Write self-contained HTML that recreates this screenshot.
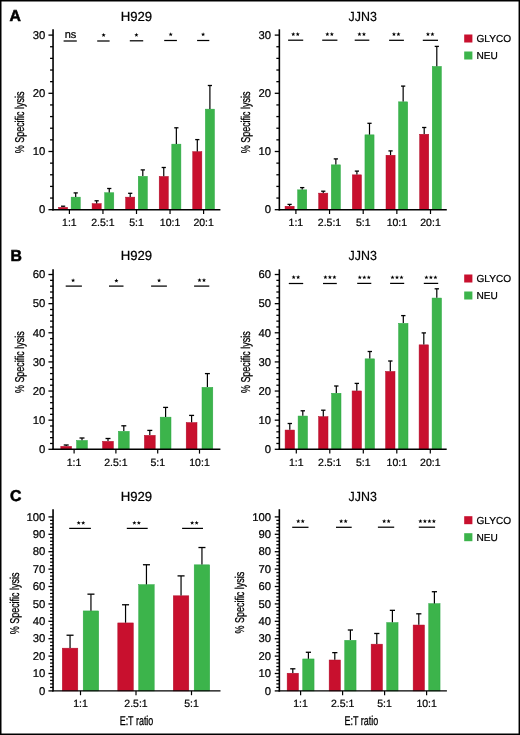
<!DOCTYPE html>
<html><head><meta charset="utf-8"><style>
html,body{margin:0;padding:0;background:#fff;overflow:hidden;width:520px;height:735px;}
svg{display:block;will-change:transform;}
text{font-family:"Liberation Sans", sans-serif;text-rendering:geometricPrecision;stroke:#000;stroke-width:0.22px;}
</style></head><body>
<svg width="520" height="735" viewBox="0 0 520 735">
<rect x="0" y="0" width="520" height="735" fill="#fff"/>
<text x="136.4" y="20.9" font-size="13.2" text-anchor="middle" fill="#000">H929</text>
<line x1="48.449999999999996" y1="209.70" x2="53.05" y2="209.70" stroke="#000" stroke-width="1.3"/>
<text x="45.3" y="213.45" font-size="11.3" text-anchor="end" fill="#000">0</text>
<line x1="50.05" y1="198.06" x2="53.05" y2="198.06" stroke="#000" stroke-width="1.3"/>
<line x1="50.05" y1="186.42" x2="53.05" y2="186.42" stroke="#000" stroke-width="1.3"/>
<line x1="50.05" y1="174.78" x2="53.05" y2="174.78" stroke="#000" stroke-width="1.3"/>
<line x1="50.05" y1="163.14" x2="53.05" y2="163.14" stroke="#000" stroke-width="1.3"/>
<line x1="48.449999999999996" y1="151.50" x2="53.05" y2="151.50" stroke="#000" stroke-width="1.3"/>
<text x="45.3" y="155.25" font-size="11.3" text-anchor="end" fill="#000">10</text>
<line x1="50.05" y1="139.86" x2="53.05" y2="139.86" stroke="#000" stroke-width="1.3"/>
<line x1="50.05" y1="128.22" x2="53.05" y2="128.22" stroke="#000" stroke-width="1.3"/>
<line x1="50.05" y1="116.58" x2="53.05" y2="116.58" stroke="#000" stroke-width="1.3"/>
<line x1="50.05" y1="104.94" x2="53.05" y2="104.94" stroke="#000" stroke-width="1.3"/>
<line x1="48.449999999999996" y1="93.30" x2="53.05" y2="93.30" stroke="#000" stroke-width="1.3"/>
<text x="45.3" y="97.05" font-size="11.3" text-anchor="end" fill="#000">20</text>
<line x1="50.05" y1="81.66" x2="53.05" y2="81.66" stroke="#000" stroke-width="1.3"/>
<line x1="50.05" y1="70.02" x2="53.05" y2="70.02" stroke="#000" stroke-width="1.3"/>
<line x1="50.05" y1="58.38" x2="53.05" y2="58.38" stroke="#000" stroke-width="1.3"/>
<line x1="50.05" y1="46.74" x2="53.05" y2="46.74" stroke="#000" stroke-width="1.3"/>
<line x1="48.449999999999996" y1="35.10" x2="53.05" y2="35.10" stroke="#000" stroke-width="1.3"/>
<text x="45.3" y="38.85" font-size="11.3" text-anchor="end" fill="#000">30</text>
<text transform="translate(24.0,122.4) rotate(-90) scale(0.70,1)" font-size="12.8" text-anchor="middle" fill="#000" style="stroke-width:0.28px">% Specific lysis</text>
<line x1="69.4" y1="209.7" x2="69.4" y2="214.0" stroke="#000" stroke-width="1.2"/>
<text x="69.4" y="226.00" font-size="10.5" text-anchor="middle" fill="#000">1:1</text>
<rect x="58.55" y="207.35" width="9.10" height="2.35" fill="#c8102e" stroke="#b00c28" stroke-width="0.5"/>
<line x1="63.10" y1="206.20" x2="63.10" y2="207.10" stroke="#000" stroke-width="1.2"/>
<line x1="60.99" y1="206.20" x2="65.21" y2="206.20" stroke="#000" stroke-width="1.3"/>
<rect x="71.15" y="197.15" width="9.10" height="12.55" fill="#3cb44b" stroke="#2aa743" stroke-width="0.5"/>
<line x1="75.70" y1="192.90" x2="75.70" y2="196.90" stroke="#000" stroke-width="1.2"/>
<line x1="73.59" y1="192.90" x2="77.81" y2="192.90" stroke="#000" stroke-width="1.3"/>
<line x1="102.95" y1="209.7" x2="102.95" y2="214.0" stroke="#000" stroke-width="1.2"/>
<text x="102.95" y="226.00" font-size="10.5" text-anchor="middle" fill="#000">2.5:1</text>
<rect x="92.10" y="203.65" width="9.10" height="6.05" fill="#c8102e" stroke="#b00c28" stroke-width="0.5"/>
<line x1="96.65" y1="200.80" x2="96.65" y2="203.40" stroke="#000" stroke-width="1.2"/>
<line x1="94.54" y1="200.80" x2="98.76" y2="200.80" stroke="#000" stroke-width="1.3"/>
<rect x="104.70" y="192.75" width="9.10" height="16.95" fill="#3cb44b" stroke="#2aa743" stroke-width="0.5"/>
<line x1="109.25" y1="188.50" x2="109.25" y2="192.50" stroke="#000" stroke-width="1.2"/>
<line x1="107.14" y1="188.50" x2="111.36" y2="188.50" stroke="#000" stroke-width="1.3"/>
<line x1="136.5" y1="209.7" x2="136.5" y2="214.0" stroke="#000" stroke-width="1.2"/>
<text x="136.5" y="226.00" font-size="10.5" text-anchor="middle" fill="#000">5:1</text>
<rect x="125.65" y="197.15" width="9.10" height="12.55" fill="#c8102e" stroke="#b00c28" stroke-width="0.5"/>
<line x1="130.20" y1="193.30" x2="130.20" y2="196.90" stroke="#000" stroke-width="1.2"/>
<line x1="128.09" y1="193.30" x2="132.31" y2="193.30" stroke="#000" stroke-width="1.3"/>
<rect x="138.25" y="176.35" width="9.10" height="33.35" fill="#3cb44b" stroke="#2aa743" stroke-width="0.5"/>
<line x1="142.80" y1="169.90" x2="142.80" y2="176.10" stroke="#000" stroke-width="1.2"/>
<line x1="140.69" y1="169.90" x2="144.91" y2="169.90" stroke="#000" stroke-width="1.3"/>
<line x1="170.05" y1="209.7" x2="170.05" y2="214.0" stroke="#000" stroke-width="1.2"/>
<text x="170.05" y="226.00" font-size="10.5" text-anchor="middle" fill="#000">10:1</text>
<rect x="159.20" y="176.45" width="9.10" height="33.25" fill="#c8102e" stroke="#b00c28" stroke-width="0.5"/>
<line x1="163.75" y1="167.50" x2="163.75" y2="176.20" stroke="#000" stroke-width="1.2"/>
<line x1="161.64" y1="167.50" x2="165.86" y2="167.50" stroke="#000" stroke-width="1.3"/>
<rect x="171.80" y="144.15" width="9.10" height="65.55" fill="#3cb44b" stroke="#2aa743" stroke-width="0.5"/>
<line x1="176.35" y1="127.80" x2="176.35" y2="143.90" stroke="#000" stroke-width="1.2"/>
<line x1="174.24" y1="127.80" x2="178.46" y2="127.80" stroke="#000" stroke-width="1.3"/>
<line x1="203.6" y1="209.7" x2="203.6" y2="214.0" stroke="#000" stroke-width="1.2"/>
<text x="203.6" y="226.00" font-size="10.5" text-anchor="middle" fill="#000">20:1</text>
<rect x="192.75" y="151.65" width="9.10" height="58.05" fill="#c8102e" stroke="#b00c28" stroke-width="0.5"/>
<line x1="197.30" y1="139.60" x2="197.30" y2="151.40" stroke="#000" stroke-width="1.2"/>
<line x1="195.19" y1="139.60" x2="199.41" y2="139.60" stroke="#000" stroke-width="1.3"/>
<rect x="205.35" y="109.15" width="9.10" height="100.55" fill="#3cb44b" stroke="#2aa743" stroke-width="0.5"/>
<line x1="209.90" y1="85.50" x2="209.90" y2="108.90" stroke="#000" stroke-width="1.2"/>
<line x1="207.79" y1="85.50" x2="212.01" y2="85.50" stroke="#000" stroke-width="1.3"/>
<line x1="53.05" y1="29.3" x2="53.05" y2="210.39999999999998" stroke="#000" stroke-width="1.6"/>
<line x1="52.3" y1="209.7" x2="220.4" y2="209.7" stroke="#000" stroke-width="1.4"/>
<line x1="63.6" y1="41.0" x2="76.8" y2="41.0" stroke="#000" stroke-width="1.25"/>
<text x="70.50" y="38.40" font-size="11" text-anchor="middle" fill="#000">ns</text>
<line x1="97.2" y1="41.0" x2="109.6" y2="41.0" stroke="#000" stroke-width="1.25"/>
<polygon points="103.60,32.90 104.16,34.33 105.69,34.42 104.50,35.39 104.89,36.88 103.60,36.05 102.31,36.88 102.70,35.39 101.51,34.42 103.04,34.33" fill="#000"/>
<line x1="129.8" y1="40.8" x2="143.2" y2="40.8" stroke="#000" stroke-width="1.25"/>
<polygon points="136.40,32.80 136.96,34.23 138.49,34.32 137.30,35.29 137.69,36.78 136.40,35.95 135.11,36.78 135.50,35.29 134.31,34.32 135.84,34.23" fill="#000"/>
<line x1="164.2" y1="40.5" x2="176.9" y2="40.5" stroke="#000" stroke-width="1.25"/>
<polygon points="170.70,32.20 171.26,33.63 172.79,33.72 171.60,34.69 171.99,36.18 170.70,35.35 169.41,36.18 169.80,34.69 168.61,33.72 170.14,33.63" fill="#000"/>
<line x1="197.1" y1="40.5" x2="209.3" y2="40.5" stroke="#000" stroke-width="1.25"/>
<polygon points="203.10,32.20 203.66,33.63 205.19,33.72 204.00,34.69 204.39,36.18 203.10,35.35 201.81,36.18 202.20,34.69 201.01,33.72 202.54,33.63" fill="#000"/>
<text x="362.7" y="20.9" font-size="13.2" text-anchor="middle" fill="#000" textLength="28.3" lengthAdjust="spacingAndGlyphs">JJN3</text>
<line x1="274.75" y1="209.70" x2="279.35" y2="209.70" stroke="#000" stroke-width="1.3"/>
<text x="271.1" y="213.45" font-size="11.3" text-anchor="end" fill="#000">0</text>
<line x1="276.35" y1="198.06" x2="279.35" y2="198.06" stroke="#000" stroke-width="1.3"/>
<line x1="276.35" y1="186.42" x2="279.35" y2="186.42" stroke="#000" stroke-width="1.3"/>
<line x1="276.35" y1="174.78" x2="279.35" y2="174.78" stroke="#000" stroke-width="1.3"/>
<line x1="276.35" y1="163.14" x2="279.35" y2="163.14" stroke="#000" stroke-width="1.3"/>
<line x1="274.75" y1="151.50" x2="279.35" y2="151.50" stroke="#000" stroke-width="1.3"/>
<text x="271.1" y="155.25" font-size="11.3" text-anchor="end" fill="#000">10</text>
<line x1="276.35" y1="139.86" x2="279.35" y2="139.86" stroke="#000" stroke-width="1.3"/>
<line x1="276.35" y1="128.22" x2="279.35" y2="128.22" stroke="#000" stroke-width="1.3"/>
<line x1="276.35" y1="116.58" x2="279.35" y2="116.58" stroke="#000" stroke-width="1.3"/>
<line x1="276.35" y1="104.94" x2="279.35" y2="104.94" stroke="#000" stroke-width="1.3"/>
<line x1="274.75" y1="93.30" x2="279.35" y2="93.30" stroke="#000" stroke-width="1.3"/>
<text x="271.1" y="97.05" font-size="11.3" text-anchor="end" fill="#000">20</text>
<line x1="276.35" y1="81.66" x2="279.35" y2="81.66" stroke="#000" stroke-width="1.3"/>
<line x1="276.35" y1="70.02" x2="279.35" y2="70.02" stroke="#000" stroke-width="1.3"/>
<line x1="276.35" y1="58.38" x2="279.35" y2="58.38" stroke="#000" stroke-width="1.3"/>
<line x1="276.35" y1="46.74" x2="279.35" y2="46.74" stroke="#000" stroke-width="1.3"/>
<line x1="274.75" y1="35.10" x2="279.35" y2="35.10" stroke="#000" stroke-width="1.3"/>
<text x="271.1" y="38.85" font-size="11.3" text-anchor="end" fill="#000">30</text>
<text transform="translate(249.8,122.4) rotate(-90) scale(0.70,1)" font-size="12.8" text-anchor="middle" fill="#000" style="stroke-width:0.28px">% Specific lysis</text>
<line x1="295.9" y1="209.7" x2="295.9" y2="214.0" stroke="#000" stroke-width="1.2"/>
<text x="295.9" y="226.00" font-size="10.5" text-anchor="middle" fill="#000">1:1</text>
<rect x="285.05" y="206.25" width="9.10" height="3.45" fill="#c8102e" stroke="#b00c28" stroke-width="0.5"/>
<line x1="289.60" y1="204.40" x2="289.60" y2="206.00" stroke="#000" stroke-width="1.2"/>
<line x1="287.49" y1="204.40" x2="291.71" y2="204.40" stroke="#000" stroke-width="1.3"/>
<rect x="297.65" y="189.85" width="9.10" height="19.85" fill="#3cb44b" stroke="#2aa743" stroke-width="0.5"/>
<line x1="302.20" y1="187.60" x2="302.20" y2="189.60" stroke="#000" stroke-width="1.2"/>
<line x1="300.09" y1="187.60" x2="304.31" y2="187.60" stroke="#000" stroke-width="1.3"/>
<line x1="329.54999999999995" y1="209.7" x2="329.54999999999995" y2="214.0" stroke="#000" stroke-width="1.2"/>
<text x="329.54999999999995" y="226.00" font-size="10.5" text-anchor="middle" fill="#000">2.5:1</text>
<rect x="318.70" y="193.15" width="9.10" height="16.55" fill="#c8102e" stroke="#b00c28" stroke-width="0.5"/>
<line x1="323.25" y1="191.20" x2="323.25" y2="192.90" stroke="#000" stroke-width="1.2"/>
<line x1="321.14" y1="191.20" x2="325.36" y2="191.20" stroke="#000" stroke-width="1.3"/>
<rect x="331.30" y="164.85" width="9.10" height="44.85" fill="#3cb44b" stroke="#2aa743" stroke-width="0.5"/>
<line x1="335.85" y1="158.90" x2="335.85" y2="164.60" stroke="#000" stroke-width="1.2"/>
<line x1="333.74" y1="158.90" x2="337.96" y2="158.90" stroke="#000" stroke-width="1.3"/>
<line x1="363.2" y1="209.7" x2="363.2" y2="214.0" stroke="#000" stroke-width="1.2"/>
<text x="363.2" y="226.00" font-size="10.5" text-anchor="middle" fill="#000">5:1</text>
<rect x="352.35" y="174.85" width="9.10" height="34.85" fill="#c8102e" stroke="#b00c28" stroke-width="0.5"/>
<line x1="356.90" y1="171.10" x2="356.90" y2="174.60" stroke="#000" stroke-width="1.2"/>
<line x1="354.79" y1="171.10" x2="359.01" y2="171.10" stroke="#000" stroke-width="1.3"/>
<rect x="364.95" y="134.85" width="9.10" height="74.85" fill="#3cb44b" stroke="#2aa743" stroke-width="0.5"/>
<line x1="369.50" y1="123.30" x2="369.50" y2="134.60" stroke="#000" stroke-width="1.2"/>
<line x1="367.39" y1="123.30" x2="371.61" y2="123.30" stroke="#000" stroke-width="1.3"/>
<line x1="396.84999999999997" y1="209.7" x2="396.84999999999997" y2="214.0" stroke="#000" stroke-width="1.2"/>
<text x="396.84999999999997" y="226.00" font-size="10.5" text-anchor="middle" fill="#000">10:1</text>
<rect x="386.00" y="155.25" width="9.10" height="54.45" fill="#c8102e" stroke="#b00c28" stroke-width="0.5"/>
<line x1="390.55" y1="150.90" x2="390.55" y2="155.00" stroke="#000" stroke-width="1.2"/>
<line x1="388.44" y1="150.90" x2="392.66" y2="150.90" stroke="#000" stroke-width="1.3"/>
<rect x="398.60" y="101.85" width="9.10" height="107.85" fill="#3cb44b" stroke="#2aa743" stroke-width="0.5"/>
<line x1="403.15" y1="86.10" x2="403.15" y2="101.60" stroke="#000" stroke-width="1.2"/>
<line x1="401.04" y1="86.10" x2="405.26" y2="86.10" stroke="#000" stroke-width="1.3"/>
<line x1="430.5" y1="209.7" x2="430.5" y2="214.0" stroke="#000" stroke-width="1.2"/>
<text x="430.5" y="226.00" font-size="10.5" text-anchor="middle" fill="#000">20:1</text>
<rect x="419.65" y="134.25" width="9.10" height="75.45" fill="#c8102e" stroke="#b00c28" stroke-width="0.5"/>
<line x1="424.20" y1="127.50" x2="424.20" y2="134.00" stroke="#000" stroke-width="1.2"/>
<line x1="422.09" y1="127.50" x2="426.31" y2="127.50" stroke="#000" stroke-width="1.3"/>
<rect x="432.25" y="66.45" width="9.10" height="143.25" fill="#3cb44b" stroke="#2aa743" stroke-width="0.5"/>
<line x1="436.80" y1="46.40" x2="436.80" y2="66.20" stroke="#000" stroke-width="1.2"/>
<line x1="434.69" y1="46.40" x2="438.91" y2="46.40" stroke="#000" stroke-width="1.3"/>
<line x1="279.35" y1="29.3" x2="279.35" y2="210.39999999999998" stroke="#000" stroke-width="1.6"/>
<line x1="278.6" y1="209.7" x2="446.8" y2="209.7" stroke="#000" stroke-width="1.4"/>
<line x1="288.1" y1="40.2" x2="303.2" y2="40.2" stroke="#000" stroke-width="1.25"/>
<polygon points="293.25,32.10 293.81,33.53 295.34,33.62 294.15,34.59 294.54,36.08 293.25,35.25 291.96,36.08 292.35,34.59 291.16,33.62 292.69,33.53" fill="#000"/>
<polygon points="297.75,32.10 298.31,33.53 299.84,33.62 298.65,34.59 299.04,36.08 297.75,35.25 296.46,36.08 296.85,34.59 295.66,33.62 297.19,33.53" fill="#000"/>
<line x1="322.2" y1="40.2" x2="337.4" y2="40.2" stroke="#000" stroke-width="1.25"/>
<polygon points="327.35,32.10 327.91,33.53 329.44,33.62 328.25,34.59 328.64,36.08 327.35,35.25 326.06,36.08 326.45,34.59 325.26,33.62 326.79,33.53" fill="#000"/>
<polygon points="331.85,32.10 332.41,33.53 333.94,33.62 332.75,34.59 333.14,36.08 331.85,35.25 330.56,36.08 330.95,34.59 329.76,33.62 331.29,33.53" fill="#000"/>
<line x1="354.7" y1="40.2" x2="369.3" y2="40.2" stroke="#000" stroke-width="1.25"/>
<polygon points="359.45,32.10 360.01,33.53 361.54,33.62 360.35,34.59 360.74,36.08 359.45,35.25 358.16,36.08 358.55,34.59 357.36,33.62 358.89,33.53" fill="#000"/>
<polygon points="363.95,32.10 364.51,33.53 366.04,33.62 364.85,34.59 365.24,36.08 363.95,35.25 362.66,36.08 363.05,34.59 361.86,33.62 363.39,33.53" fill="#000"/>
<line x1="389.1" y1="40.3" x2="403.9" y2="40.3" stroke="#000" stroke-width="1.25"/>
<polygon points="393.95,32.00 394.51,33.43 396.04,33.52 394.85,34.49 395.24,35.98 393.95,35.15 392.66,35.98 393.05,34.49 391.86,33.52 393.39,33.43" fill="#000"/>
<polygon points="398.45,32.00 399.01,33.43 400.54,33.52 399.35,34.49 399.74,35.98 398.45,35.15 397.16,35.98 397.55,34.49 396.36,33.52 397.89,33.43" fill="#000"/>
<line x1="422.8" y1="40.3" x2="438.0" y2="40.3" stroke="#000" stroke-width="1.25"/>
<polygon points="427.95,32.00 428.51,33.43 430.04,33.52 428.85,34.49 429.24,35.98 427.95,35.15 426.66,35.98 427.05,34.49 425.86,33.52 427.39,33.43" fill="#000"/>
<polygon points="432.45,32.00 433.01,33.43 434.54,33.52 433.35,34.49 433.74,35.98 432.45,35.15 431.16,35.98 431.55,34.49 430.36,33.52 431.89,33.43" fill="#000"/>
<rect x="464.2" y="34.5" width="8.2" height="8" fill="#c8102e"/>
<rect x="464.2" y="51.5" width="8.2" height="8" fill="#3cb44b"/>
<text x="476.5" y="41.8" font-size="10.1" fill="#000">GLYCO</text>
<text x="476.5" y="58.8" font-size="10.1" fill="#000">NEU</text>
<text x="136.4" y="260.2" font-size="13.2" text-anchor="middle" fill="#000">H929</text>
<line x1="48.449999999999996" y1="449.30" x2="53.05" y2="449.30" stroke="#000" stroke-width="1.3"/>
<text x="45.3" y="453.05" font-size="11.3" text-anchor="end" fill="#000">0</text>
<line x1="50.05" y1="443.47" x2="53.05" y2="443.47" stroke="#000" stroke-width="1.3"/>
<line x1="50.05" y1="437.65" x2="53.05" y2="437.65" stroke="#000" stroke-width="1.3"/>
<line x1="50.05" y1="431.82" x2="53.05" y2="431.82" stroke="#000" stroke-width="1.3"/>
<line x1="50.05" y1="426.00" x2="53.05" y2="426.00" stroke="#000" stroke-width="1.3"/>
<line x1="48.449999999999996" y1="420.17" x2="53.05" y2="420.17" stroke="#000" stroke-width="1.3"/>
<text x="45.3" y="423.92" font-size="11.3" text-anchor="end" fill="#000">10</text>
<line x1="50.05" y1="414.34" x2="53.05" y2="414.34" stroke="#000" stroke-width="1.3"/>
<line x1="50.05" y1="408.52" x2="53.05" y2="408.52" stroke="#000" stroke-width="1.3"/>
<line x1="50.05" y1="402.69" x2="53.05" y2="402.69" stroke="#000" stroke-width="1.3"/>
<line x1="50.05" y1="396.87" x2="53.05" y2="396.87" stroke="#000" stroke-width="1.3"/>
<line x1="48.449999999999996" y1="391.04" x2="53.05" y2="391.04" stroke="#000" stroke-width="1.3"/>
<text x="45.3" y="394.79" font-size="11.3" text-anchor="end" fill="#000">20</text>
<line x1="50.05" y1="385.21" x2="53.05" y2="385.21" stroke="#000" stroke-width="1.3"/>
<line x1="50.05" y1="379.39" x2="53.05" y2="379.39" stroke="#000" stroke-width="1.3"/>
<line x1="50.05" y1="373.56" x2="53.05" y2="373.56" stroke="#000" stroke-width="1.3"/>
<line x1="50.05" y1="367.74" x2="53.05" y2="367.74" stroke="#000" stroke-width="1.3"/>
<line x1="48.449999999999996" y1="361.91" x2="53.05" y2="361.91" stroke="#000" stroke-width="1.3"/>
<text x="45.3" y="365.66" font-size="11.3" text-anchor="end" fill="#000">30</text>
<line x1="50.05" y1="356.08" x2="53.05" y2="356.08" stroke="#000" stroke-width="1.3"/>
<line x1="50.05" y1="350.26" x2="53.05" y2="350.26" stroke="#000" stroke-width="1.3"/>
<line x1="50.05" y1="344.43" x2="53.05" y2="344.43" stroke="#000" stroke-width="1.3"/>
<line x1="50.05" y1="338.61" x2="53.05" y2="338.61" stroke="#000" stroke-width="1.3"/>
<line x1="48.449999999999996" y1="332.78" x2="53.05" y2="332.78" stroke="#000" stroke-width="1.3"/>
<text x="45.3" y="336.53" font-size="11.3" text-anchor="end" fill="#000">40</text>
<line x1="50.05" y1="326.95" x2="53.05" y2="326.95" stroke="#000" stroke-width="1.3"/>
<line x1="50.05" y1="321.13" x2="53.05" y2="321.13" stroke="#000" stroke-width="1.3"/>
<line x1="50.05" y1="315.30" x2="53.05" y2="315.30" stroke="#000" stroke-width="1.3"/>
<line x1="50.05" y1="309.48" x2="53.05" y2="309.48" stroke="#000" stroke-width="1.3"/>
<line x1="48.449999999999996" y1="303.65" x2="53.05" y2="303.65" stroke="#000" stroke-width="1.3"/>
<text x="45.3" y="307.40" font-size="11.3" text-anchor="end" fill="#000">50</text>
<line x1="50.05" y1="297.82" x2="53.05" y2="297.82" stroke="#000" stroke-width="1.3"/>
<line x1="50.05" y1="292.00" x2="53.05" y2="292.00" stroke="#000" stroke-width="1.3"/>
<line x1="50.05" y1="286.17" x2="53.05" y2="286.17" stroke="#000" stroke-width="1.3"/>
<line x1="50.05" y1="280.35" x2="53.05" y2="280.35" stroke="#000" stroke-width="1.3"/>
<line x1="48.449999999999996" y1="274.52" x2="53.05" y2="274.52" stroke="#000" stroke-width="1.3"/>
<text x="45.3" y="278.27" font-size="11.3" text-anchor="end" fill="#000">60</text>
<text transform="translate(24.0,362.2) rotate(-90) scale(0.70,1)" font-size="12.8" text-anchor="middle" fill="#000" style="stroke-width:0.28px">% Specific lysis</text>
<line x1="74.1" y1="449.3" x2="74.1" y2="453.6" stroke="#000" stroke-width="1.2"/>
<text x="74.1" y="465.60" font-size="10.5" text-anchor="middle" fill="#000">1:1</text>
<rect x="60.80" y="446.35" width="10.80" height="2.95" fill="#c8102e" stroke="#b00c28" stroke-width="0.5"/>
<line x1="66.20" y1="445.00" x2="66.20" y2="446.10" stroke="#000" stroke-width="1.2"/>
<line x1="63.71" y1="445.00" x2="68.69" y2="445.00" stroke="#000" stroke-width="1.3"/>
<rect x="76.60" y="440.45" width="10.80" height="8.85" fill="#3cb44b" stroke="#2aa743" stroke-width="0.5"/>
<line x1="82.00" y1="438.00" x2="82.00" y2="440.20" stroke="#000" stroke-width="1.2"/>
<line x1="79.51" y1="438.00" x2="84.49" y2="438.00" stroke="#000" stroke-width="1.3"/>
<line x1="115.89999999999999" y1="449.3" x2="115.89999999999999" y2="453.6" stroke="#000" stroke-width="1.2"/>
<text x="115.89999999999999" y="465.60" font-size="10.5" text-anchor="middle" fill="#000">2.5:1</text>
<rect x="102.60" y="441.35" width="10.80" height="7.95" fill="#c8102e" stroke="#b00c28" stroke-width="0.5"/>
<line x1="108.00" y1="438.50" x2="108.00" y2="441.10" stroke="#000" stroke-width="1.2"/>
<line x1="105.51" y1="438.50" x2="110.49" y2="438.50" stroke="#000" stroke-width="1.3"/>
<rect x="118.40" y="431.35" width="10.80" height="17.95" fill="#3cb44b" stroke="#2aa743" stroke-width="0.5"/>
<line x1="123.80" y1="425.80" x2="123.80" y2="431.10" stroke="#000" stroke-width="1.2"/>
<line x1="121.31" y1="425.80" x2="126.29" y2="425.80" stroke="#000" stroke-width="1.3"/>
<line x1="157.7" y1="449.3" x2="157.7" y2="453.6" stroke="#000" stroke-width="1.2"/>
<text x="157.7" y="465.60" font-size="10.5" text-anchor="middle" fill="#000">5:1</text>
<rect x="144.40" y="435.35" width="10.80" height="13.95" fill="#c8102e" stroke="#b00c28" stroke-width="0.5"/>
<line x1="149.80" y1="430.40" x2="149.80" y2="435.10" stroke="#000" stroke-width="1.2"/>
<line x1="147.31" y1="430.40" x2="152.29" y2="430.40" stroke="#000" stroke-width="1.3"/>
<rect x="160.20" y="417.15" width="10.80" height="32.15" fill="#3cb44b" stroke="#2aa743" stroke-width="0.5"/>
<line x1="165.60" y1="407.40" x2="165.60" y2="416.90" stroke="#000" stroke-width="1.2"/>
<line x1="163.11" y1="407.40" x2="168.09" y2="407.40" stroke="#000" stroke-width="1.3"/>
<line x1="199.5" y1="449.3" x2="199.5" y2="453.6" stroke="#000" stroke-width="1.2"/>
<text x="199.5" y="465.60" font-size="10.5" text-anchor="middle" fill="#000">10:1</text>
<rect x="186.20" y="422.55" width="10.80" height="26.75" fill="#c8102e" stroke="#b00c28" stroke-width="0.5"/>
<line x1="191.60" y1="415.40" x2="191.60" y2="422.30" stroke="#000" stroke-width="1.2"/>
<line x1="189.11" y1="415.40" x2="194.09" y2="415.40" stroke="#000" stroke-width="1.3"/>
<rect x="202.00" y="387.35" width="10.80" height="61.95" fill="#3cb44b" stroke="#2aa743" stroke-width="0.5"/>
<line x1="207.40" y1="373.60" x2="207.40" y2="387.10" stroke="#000" stroke-width="1.2"/>
<line x1="204.91" y1="373.60" x2="209.89" y2="373.60" stroke="#000" stroke-width="1.3"/>
<line x1="53.05" y1="269.3" x2="53.05" y2="450.0" stroke="#000" stroke-width="1.6"/>
<line x1="52.3" y1="449.3" x2="220.4" y2="449.3" stroke="#000" stroke-width="1.4"/>
<line x1="65.7" y1="286.1" x2="81.9" y2="286.1" stroke="#000" stroke-width="1.25"/>
<polygon points="73.10,278.20 73.66,279.63 75.19,279.72 74.00,280.69 74.39,282.18 73.10,281.35 71.81,282.18 72.20,280.69 71.01,279.72 72.54,279.63" fill="#000"/>
<line x1="109.0" y1="286.1" x2="123.5" y2="286.1" stroke="#000" stroke-width="1.25"/>
<polygon points="116.40,278.50 116.96,279.93 118.49,280.02 117.30,280.99 117.69,282.48 116.40,281.65 115.11,282.48 115.50,280.99 114.31,280.02 115.84,279.93" fill="#000"/>
<line x1="151.1" y1="286.1" x2="166.9" y2="286.1" stroke="#000" stroke-width="1.25"/>
<polygon points="159.10,278.30 159.66,279.73 161.19,279.82 160.00,280.79 160.39,282.28 159.10,281.45 157.81,282.28 158.20,280.79 157.01,279.82 158.54,279.73" fill="#000"/>
<line x1="194.1" y1="286.1" x2="209.3" y2="286.1" stroke="#000" stroke-width="1.25"/>
<polygon points="199.50,278.10 200.06,279.53 201.59,279.62 200.40,280.59 200.79,282.08 199.50,281.25 198.21,282.08 198.60,280.59 197.41,279.62 198.94,279.53" fill="#000"/>
<polygon points="204.00,278.10 204.56,279.53 206.09,279.62 204.90,280.59 205.29,282.08 204.00,281.25 202.71,282.08 203.10,280.59 201.91,279.62 203.44,279.53" fill="#000"/>
<text x="362.7" y="260.2" font-size="13.2" text-anchor="middle" fill="#000" textLength="28.3" lengthAdjust="spacingAndGlyphs">JJN3</text>
<line x1="274.75" y1="449.30" x2="279.35" y2="449.30" stroke="#000" stroke-width="1.3"/>
<text x="271.1" y="453.05" font-size="11.3" text-anchor="end" fill="#000">0</text>
<line x1="276.35" y1="443.47" x2="279.35" y2="443.47" stroke="#000" stroke-width="1.3"/>
<line x1="276.35" y1="437.65" x2="279.35" y2="437.65" stroke="#000" stroke-width="1.3"/>
<line x1="276.35" y1="431.82" x2="279.35" y2="431.82" stroke="#000" stroke-width="1.3"/>
<line x1="276.35" y1="426.00" x2="279.35" y2="426.00" stroke="#000" stroke-width="1.3"/>
<line x1="274.75" y1="420.17" x2="279.35" y2="420.17" stroke="#000" stroke-width="1.3"/>
<text x="271.1" y="423.92" font-size="11.3" text-anchor="end" fill="#000">10</text>
<line x1="276.35" y1="414.34" x2="279.35" y2="414.34" stroke="#000" stroke-width="1.3"/>
<line x1="276.35" y1="408.52" x2="279.35" y2="408.52" stroke="#000" stroke-width="1.3"/>
<line x1="276.35" y1="402.69" x2="279.35" y2="402.69" stroke="#000" stroke-width="1.3"/>
<line x1="276.35" y1="396.87" x2="279.35" y2="396.87" stroke="#000" stroke-width="1.3"/>
<line x1="274.75" y1="391.04" x2="279.35" y2="391.04" stroke="#000" stroke-width="1.3"/>
<text x="271.1" y="394.79" font-size="11.3" text-anchor="end" fill="#000">20</text>
<line x1="276.35" y1="385.21" x2="279.35" y2="385.21" stroke="#000" stroke-width="1.3"/>
<line x1="276.35" y1="379.39" x2="279.35" y2="379.39" stroke="#000" stroke-width="1.3"/>
<line x1="276.35" y1="373.56" x2="279.35" y2="373.56" stroke="#000" stroke-width="1.3"/>
<line x1="276.35" y1="367.74" x2="279.35" y2="367.74" stroke="#000" stroke-width="1.3"/>
<line x1="274.75" y1="361.91" x2="279.35" y2="361.91" stroke="#000" stroke-width="1.3"/>
<text x="271.1" y="365.66" font-size="11.3" text-anchor="end" fill="#000">30</text>
<line x1="276.35" y1="356.08" x2="279.35" y2="356.08" stroke="#000" stroke-width="1.3"/>
<line x1="276.35" y1="350.26" x2="279.35" y2="350.26" stroke="#000" stroke-width="1.3"/>
<line x1="276.35" y1="344.43" x2="279.35" y2="344.43" stroke="#000" stroke-width="1.3"/>
<line x1="276.35" y1="338.61" x2="279.35" y2="338.61" stroke="#000" stroke-width="1.3"/>
<line x1="274.75" y1="332.78" x2="279.35" y2="332.78" stroke="#000" stroke-width="1.3"/>
<text x="271.1" y="336.53" font-size="11.3" text-anchor="end" fill="#000">40</text>
<line x1="276.35" y1="326.95" x2="279.35" y2="326.95" stroke="#000" stroke-width="1.3"/>
<line x1="276.35" y1="321.13" x2="279.35" y2="321.13" stroke="#000" stroke-width="1.3"/>
<line x1="276.35" y1="315.30" x2="279.35" y2="315.30" stroke="#000" stroke-width="1.3"/>
<line x1="276.35" y1="309.48" x2="279.35" y2="309.48" stroke="#000" stroke-width="1.3"/>
<line x1="274.75" y1="303.65" x2="279.35" y2="303.65" stroke="#000" stroke-width="1.3"/>
<text x="271.1" y="307.40" font-size="11.3" text-anchor="end" fill="#000">50</text>
<line x1="276.35" y1="297.82" x2="279.35" y2="297.82" stroke="#000" stroke-width="1.3"/>
<line x1="276.35" y1="292.00" x2="279.35" y2="292.00" stroke="#000" stroke-width="1.3"/>
<line x1="276.35" y1="286.17" x2="279.35" y2="286.17" stroke="#000" stroke-width="1.3"/>
<line x1="276.35" y1="280.35" x2="279.35" y2="280.35" stroke="#000" stroke-width="1.3"/>
<line x1="274.75" y1="274.52" x2="279.35" y2="274.52" stroke="#000" stroke-width="1.3"/>
<text x="271.1" y="278.27" font-size="11.3" text-anchor="end" fill="#000">60</text>
<text transform="translate(249.8,362.2) rotate(-90) scale(0.70,1)" font-size="12.8" text-anchor="middle" fill="#000" style="stroke-width:0.28px">% Specific lysis</text>
<line x1="296.3" y1="449.3" x2="296.3" y2="453.6" stroke="#000" stroke-width="1.2"/>
<text x="296.3" y="465.60" font-size="10.5" text-anchor="middle" fill="#000">1:1</text>
<rect x="285.10" y="430.05" width="9.40" height="19.25" fill="#c8102e" stroke="#b00c28" stroke-width="0.5"/>
<line x1="289.80" y1="423.50" x2="289.80" y2="429.80" stroke="#000" stroke-width="1.2"/>
<line x1="287.62" y1="423.50" x2="291.98" y2="423.50" stroke="#000" stroke-width="1.3"/>
<rect x="298.10" y="416.05" width="9.40" height="33.25" fill="#3cb44b" stroke="#2aa743" stroke-width="0.5"/>
<line x1="302.80" y1="410.80" x2="302.80" y2="415.80" stroke="#000" stroke-width="1.2"/>
<line x1="300.62" y1="410.80" x2="304.98" y2="410.80" stroke="#000" stroke-width="1.3"/>
<line x1="329.8" y1="449.3" x2="329.8" y2="453.6" stroke="#000" stroke-width="1.2"/>
<text x="329.8" y="465.60" font-size="10.5" text-anchor="middle" fill="#000">2.5:1</text>
<rect x="318.60" y="416.65" width="9.40" height="32.65" fill="#c8102e" stroke="#b00c28" stroke-width="0.5"/>
<line x1="323.30" y1="410.20" x2="323.30" y2="416.40" stroke="#000" stroke-width="1.2"/>
<line x1="321.12" y1="410.20" x2="325.48" y2="410.20" stroke="#000" stroke-width="1.3"/>
<rect x="331.60" y="393.25" width="9.40" height="56.05" fill="#3cb44b" stroke="#2aa743" stroke-width="0.5"/>
<line x1="336.30" y1="386.00" x2="336.30" y2="393.00" stroke="#000" stroke-width="1.2"/>
<line x1="334.12" y1="386.00" x2="338.48" y2="386.00" stroke="#000" stroke-width="1.3"/>
<line x1="363.3" y1="449.3" x2="363.3" y2="453.6" stroke="#000" stroke-width="1.2"/>
<text x="363.3" y="465.60" font-size="10.5" text-anchor="middle" fill="#000">5:1</text>
<rect x="352.10" y="390.95" width="9.40" height="58.35" fill="#c8102e" stroke="#b00c28" stroke-width="0.5"/>
<line x1="356.80" y1="383.40" x2="356.80" y2="390.70" stroke="#000" stroke-width="1.2"/>
<line x1="354.62" y1="383.40" x2="358.98" y2="383.40" stroke="#000" stroke-width="1.3"/>
<rect x="365.10" y="358.85" width="9.40" height="90.45" fill="#3cb44b" stroke="#2aa743" stroke-width="0.5"/>
<line x1="369.80" y1="351.50" x2="369.80" y2="358.60" stroke="#000" stroke-width="1.2"/>
<line x1="367.62" y1="351.50" x2="371.98" y2="351.50" stroke="#000" stroke-width="1.3"/>
<line x1="396.8" y1="449.3" x2="396.8" y2="453.6" stroke="#000" stroke-width="1.2"/>
<text x="396.8" y="465.60" font-size="10.5" text-anchor="middle" fill="#000">10:1</text>
<rect x="385.60" y="371.45" width="9.40" height="77.85" fill="#c8102e" stroke="#b00c28" stroke-width="0.5"/>
<line x1="390.30" y1="361.00" x2="390.30" y2="371.20" stroke="#000" stroke-width="1.2"/>
<line x1="388.12" y1="361.00" x2="392.48" y2="361.00" stroke="#000" stroke-width="1.3"/>
<rect x="398.60" y="323.35" width="9.40" height="125.95" fill="#3cb44b" stroke="#2aa743" stroke-width="0.5"/>
<line x1="403.30" y1="315.60" x2="403.30" y2="323.10" stroke="#000" stroke-width="1.2"/>
<line x1="401.12" y1="315.60" x2="405.48" y2="315.60" stroke="#000" stroke-width="1.3"/>
<line x1="430.3" y1="449.3" x2="430.3" y2="453.6" stroke="#000" stroke-width="1.2"/>
<text x="430.3" y="465.60" font-size="10.5" text-anchor="middle" fill="#000">20:1</text>
<rect x="419.10" y="344.85" width="9.40" height="104.45" fill="#c8102e" stroke="#b00c28" stroke-width="0.5"/>
<line x1="423.80" y1="332.90" x2="423.80" y2="344.60" stroke="#000" stroke-width="1.2"/>
<line x1="421.62" y1="332.90" x2="425.98" y2="332.90" stroke="#000" stroke-width="1.3"/>
<rect x="432.10" y="298.05" width="9.40" height="151.25" fill="#3cb44b" stroke="#2aa743" stroke-width="0.5"/>
<line x1="436.80" y1="288.80" x2="436.80" y2="297.80" stroke="#000" stroke-width="1.2"/>
<line x1="434.62" y1="288.80" x2="438.98" y2="288.80" stroke="#000" stroke-width="1.3"/>
<line x1="279.35" y1="269.3" x2="279.35" y2="450.0" stroke="#000" stroke-width="1.6"/>
<line x1="278.6" y1="449.3" x2="446.7" y2="449.3" stroke="#000" stroke-width="1.4"/>
<line x1="288.8" y1="283.5" x2="303.2" y2="283.5" stroke="#000" stroke-width="1.25"/>
<polygon points="293.65,275.10 294.21,276.53 295.74,276.62 294.55,277.59 294.94,279.08 293.65,278.25 292.36,279.08 292.75,277.59 291.56,276.62 293.09,276.53" fill="#000"/>
<polygon points="298.15,275.10 298.71,276.53 300.24,276.62 299.05,277.59 299.44,279.08 298.15,278.25 296.86,279.08 297.25,277.59 296.06,276.62 297.59,276.53" fill="#000"/>
<line x1="323.0" y1="283.5" x2="336.8" y2="283.5" stroke="#000" stroke-width="1.25"/>
<polygon points="325.40,275.10 325.96,276.53 327.49,276.62 326.30,277.59 326.69,279.08 325.40,278.25 324.11,279.08 324.50,277.59 323.31,276.62 324.84,276.53" fill="#000"/>
<polygon points="329.90,275.10 330.46,276.53 331.99,276.62 330.80,277.59 331.19,279.08 329.90,278.25 328.61,279.08 329.00,277.59 327.81,276.62 329.34,276.53" fill="#000"/>
<polygon points="334.40,275.10 334.96,276.53 336.49,276.62 335.30,277.59 335.69,279.08 334.40,278.25 333.11,279.08 333.50,277.59 332.31,276.62 333.84,276.53" fill="#000"/>
<line x1="357.2" y1="283.4" x2="371.3" y2="283.4" stroke="#000" stroke-width="1.25"/>
<polygon points="359.80,275.20 360.36,276.63 361.89,276.72 360.70,277.69 361.09,279.18 359.80,278.35 358.51,279.18 358.90,277.69 357.71,276.72 359.24,276.63" fill="#000"/>
<polygon points="364.30,275.20 364.86,276.63 366.39,276.72 365.20,277.69 365.59,279.18 364.30,278.35 363.01,279.18 363.40,277.69 362.21,276.72 363.74,276.63" fill="#000"/>
<polygon points="368.80,275.20 369.36,276.63 370.89,276.72 369.70,277.69 370.09,279.18 368.80,278.35 367.51,279.18 367.90,277.69 366.71,276.72 368.24,276.63" fill="#000"/>
<line x1="390.1" y1="283.4" x2="404.2" y2="283.4" stroke="#000" stroke-width="1.25"/>
<polygon points="392.50,275.20 393.06,276.63 394.59,276.72 393.40,277.69 393.79,279.18 392.50,278.35 391.21,279.18 391.60,277.69 390.41,276.72 391.94,276.63" fill="#000"/>
<polygon points="397.00,275.20 397.56,276.63 399.09,276.72 397.90,277.69 398.29,279.18 397.00,278.35 395.71,279.18 396.10,277.69 394.91,276.72 396.44,276.63" fill="#000"/>
<polygon points="401.50,275.20 402.06,276.63 403.59,276.72 402.40,277.69 402.79,279.18 401.50,278.35 400.21,279.18 400.60,277.69 399.41,276.72 400.94,276.63" fill="#000"/>
<line x1="423.8" y1="283.4" x2="438.2" y2="283.4" stroke="#000" stroke-width="1.25"/>
<polygon points="426.40,275.20 426.96,276.63 428.49,276.72 427.30,277.69 427.69,279.18 426.40,278.35 425.11,279.18 425.50,277.69 424.31,276.72 425.84,276.63" fill="#000"/>
<polygon points="430.90,275.20 431.46,276.63 432.99,276.72 431.80,277.69 432.19,279.18 430.90,278.35 429.61,279.18 430.00,277.69 428.81,276.72 430.34,276.63" fill="#000"/>
<polygon points="435.40,275.20 435.96,276.63 437.49,276.72 436.30,277.69 436.69,279.18 435.40,278.35 434.11,279.18 434.50,277.69 433.31,276.72 434.84,276.63" fill="#000"/>
<rect x="464.2" y="274.5" width="8.2" height="8" fill="#c8102e"/>
<rect x="464.2" y="291.5" width="8.2" height="8" fill="#3cb44b"/>
<text x="476.5" y="281.8" font-size="10.1" fill="#000">GLYCO</text>
<text x="476.5" y="298.8" font-size="10.1" fill="#000">NEU</text>
<text x="136.4" y="500.6" font-size="13.2" text-anchor="middle" fill="#000">H929</text>
<line x1="48.449999999999996" y1="690.90" x2="53.05" y2="690.90" stroke="#000" stroke-width="1.3"/>
<text x="45.3" y="694.65" font-size="11.3" text-anchor="end" fill="#000">0</text>
<line x1="50.05" y1="687.42" x2="53.05" y2="687.42" stroke="#000" stroke-width="1.3"/>
<line x1="50.05" y1="683.94" x2="53.05" y2="683.94" stroke="#000" stroke-width="1.3"/>
<line x1="50.05" y1="680.46" x2="53.05" y2="680.46" stroke="#000" stroke-width="1.3"/>
<line x1="50.05" y1="676.98" x2="53.05" y2="676.98" stroke="#000" stroke-width="1.3"/>
<line x1="48.449999999999996" y1="673.50" x2="53.05" y2="673.50" stroke="#000" stroke-width="1.3"/>
<text x="45.3" y="677.25" font-size="11.3" text-anchor="end" fill="#000">10</text>
<line x1="50.05" y1="670.02" x2="53.05" y2="670.02" stroke="#000" stroke-width="1.3"/>
<line x1="50.05" y1="666.54" x2="53.05" y2="666.54" stroke="#000" stroke-width="1.3"/>
<line x1="50.05" y1="663.06" x2="53.05" y2="663.06" stroke="#000" stroke-width="1.3"/>
<line x1="50.05" y1="659.58" x2="53.05" y2="659.58" stroke="#000" stroke-width="1.3"/>
<line x1="48.449999999999996" y1="656.10" x2="53.05" y2="656.10" stroke="#000" stroke-width="1.3"/>
<text x="45.3" y="659.85" font-size="11.3" text-anchor="end" fill="#000">20</text>
<line x1="50.05" y1="652.62" x2="53.05" y2="652.62" stroke="#000" stroke-width="1.3"/>
<line x1="50.05" y1="649.14" x2="53.05" y2="649.14" stroke="#000" stroke-width="1.3"/>
<line x1="50.05" y1="645.66" x2="53.05" y2="645.66" stroke="#000" stroke-width="1.3"/>
<line x1="50.05" y1="642.18" x2="53.05" y2="642.18" stroke="#000" stroke-width="1.3"/>
<line x1="48.449999999999996" y1="638.70" x2="53.05" y2="638.70" stroke="#000" stroke-width="1.3"/>
<text x="45.3" y="642.45" font-size="11.3" text-anchor="end" fill="#000">30</text>
<line x1="50.05" y1="635.22" x2="53.05" y2="635.22" stroke="#000" stroke-width="1.3"/>
<line x1="50.05" y1="631.74" x2="53.05" y2="631.74" stroke="#000" stroke-width="1.3"/>
<line x1="50.05" y1="628.26" x2="53.05" y2="628.26" stroke="#000" stroke-width="1.3"/>
<line x1="50.05" y1="624.78" x2="53.05" y2="624.78" stroke="#000" stroke-width="1.3"/>
<line x1="48.449999999999996" y1="621.30" x2="53.05" y2="621.30" stroke="#000" stroke-width="1.3"/>
<text x="45.3" y="625.05" font-size="11.3" text-anchor="end" fill="#000">40</text>
<line x1="50.05" y1="617.82" x2="53.05" y2="617.82" stroke="#000" stroke-width="1.3"/>
<line x1="50.05" y1="614.34" x2="53.05" y2="614.34" stroke="#000" stroke-width="1.3"/>
<line x1="50.05" y1="610.86" x2="53.05" y2="610.86" stroke="#000" stroke-width="1.3"/>
<line x1="50.05" y1="607.38" x2="53.05" y2="607.38" stroke="#000" stroke-width="1.3"/>
<line x1="48.449999999999996" y1="603.90" x2="53.05" y2="603.90" stroke="#000" stroke-width="1.3"/>
<text x="45.3" y="607.65" font-size="11.3" text-anchor="end" fill="#000">50</text>
<line x1="50.05" y1="600.42" x2="53.05" y2="600.42" stroke="#000" stroke-width="1.3"/>
<line x1="50.05" y1="596.94" x2="53.05" y2="596.94" stroke="#000" stroke-width="1.3"/>
<line x1="50.05" y1="593.46" x2="53.05" y2="593.46" stroke="#000" stroke-width="1.3"/>
<line x1="50.05" y1="589.98" x2="53.05" y2="589.98" stroke="#000" stroke-width="1.3"/>
<line x1="48.449999999999996" y1="586.50" x2="53.05" y2="586.50" stroke="#000" stroke-width="1.3"/>
<text x="45.3" y="590.25" font-size="11.3" text-anchor="end" fill="#000">60</text>
<line x1="50.05" y1="583.02" x2="53.05" y2="583.02" stroke="#000" stroke-width="1.3"/>
<line x1="50.05" y1="579.54" x2="53.05" y2="579.54" stroke="#000" stroke-width="1.3"/>
<line x1="50.05" y1="576.06" x2="53.05" y2="576.06" stroke="#000" stroke-width="1.3"/>
<line x1="50.05" y1="572.58" x2="53.05" y2="572.58" stroke="#000" stroke-width="1.3"/>
<line x1="48.449999999999996" y1="569.10" x2="53.05" y2="569.10" stroke="#000" stroke-width="1.3"/>
<text x="45.3" y="572.85" font-size="11.3" text-anchor="end" fill="#000">70</text>
<line x1="50.05" y1="565.62" x2="53.05" y2="565.62" stroke="#000" stroke-width="1.3"/>
<line x1="50.05" y1="562.14" x2="53.05" y2="562.14" stroke="#000" stroke-width="1.3"/>
<line x1="50.05" y1="558.66" x2="53.05" y2="558.66" stroke="#000" stroke-width="1.3"/>
<line x1="50.05" y1="555.18" x2="53.05" y2="555.18" stroke="#000" stroke-width="1.3"/>
<line x1="48.449999999999996" y1="551.70" x2="53.05" y2="551.70" stroke="#000" stroke-width="1.3"/>
<text x="45.3" y="555.45" font-size="11.3" text-anchor="end" fill="#000">80</text>
<line x1="50.05" y1="548.22" x2="53.05" y2="548.22" stroke="#000" stroke-width="1.3"/>
<line x1="50.05" y1="544.74" x2="53.05" y2="544.74" stroke="#000" stroke-width="1.3"/>
<line x1="50.05" y1="541.26" x2="53.05" y2="541.26" stroke="#000" stroke-width="1.3"/>
<line x1="50.05" y1="537.78" x2="53.05" y2="537.78" stroke="#000" stroke-width="1.3"/>
<line x1="48.449999999999996" y1="534.30" x2="53.05" y2="534.30" stroke="#000" stroke-width="1.3"/>
<text x="45.3" y="538.05" font-size="11.3" text-anchor="end" fill="#000">90</text>
<line x1="50.05" y1="530.82" x2="53.05" y2="530.82" stroke="#000" stroke-width="1.3"/>
<line x1="50.05" y1="527.34" x2="53.05" y2="527.34" stroke="#000" stroke-width="1.3"/>
<line x1="50.05" y1="523.86" x2="53.05" y2="523.86" stroke="#000" stroke-width="1.3"/>
<line x1="50.05" y1="520.38" x2="53.05" y2="520.38" stroke="#000" stroke-width="1.3"/>
<line x1="48.449999999999996" y1="516.90" x2="53.05" y2="516.90" stroke="#000" stroke-width="1.3"/>
<text x="45.3" y="520.65" font-size="11.3" text-anchor="end" fill="#000">100</text>
<text transform="translate(18.6,603.4) rotate(-90) scale(0.70,1)" font-size="12.8" text-anchor="middle" fill="#000" style="stroke-width:0.28px">% Specific lysis</text>
<line x1="80.5" y1="690.9" x2="80.5" y2="695.1999999999999" stroke="#000" stroke-width="1.2"/>
<text x="80.5" y="707.20" font-size="10.5" text-anchor="middle" fill="#000">1:1</text>
<rect x="62.30" y="648.17" width="15.50" height="42.73" fill="#c8102e" stroke="#b00c28" stroke-width="0.5"/>
<line x1="70.05" y1="635.22" x2="70.05" y2="647.92" stroke="#000" stroke-width="1.2"/>
<line x1="66.53" y1="635.22" x2="73.57" y2="635.22" stroke="#000" stroke-width="1.3"/>
<rect x="83.20" y="610.94" width="15.50" height="79.96" fill="#3cb44b" stroke="#2aa743" stroke-width="0.5"/>
<line x1="90.95" y1="594.16" x2="90.95" y2="610.69" stroke="#000" stroke-width="1.2"/>
<line x1="87.43" y1="594.16" x2="94.47" y2="594.16" stroke="#000" stroke-width="1.3"/>
<line x1="136.0" y1="690.9" x2="136.0" y2="695.1999999999999" stroke="#000" stroke-width="1.2"/>
<text x="136.0" y="707.20" font-size="10.5" text-anchor="middle" fill="#000">2.5:1</text>
<rect x="117.80" y="622.94" width="15.50" height="67.96" fill="#c8102e" stroke="#b00c28" stroke-width="0.5"/>
<line x1="125.55" y1="604.77" x2="125.55" y2="622.69" stroke="#000" stroke-width="1.2"/>
<line x1="122.03" y1="604.77" x2="129.07" y2="604.77" stroke="#000" stroke-width="1.3"/>
<rect x="138.70" y="584.66" width="15.50" height="106.24" fill="#3cb44b" stroke="#2aa743" stroke-width="0.5"/>
<line x1="146.45" y1="564.75" x2="146.45" y2="584.41" stroke="#000" stroke-width="1.2"/>
<line x1="142.93" y1="564.75" x2="149.97" y2="564.75" stroke="#000" stroke-width="1.3"/>
<line x1="191.5" y1="690.9" x2="191.5" y2="695.1999999999999" stroke="#000" stroke-width="1.2"/>
<text x="191.5" y="707.20" font-size="10.5" text-anchor="middle" fill="#000">5:1</text>
<rect x="173.30" y="595.80" width="15.50" height="95.10" fill="#c8102e" stroke="#b00c28" stroke-width="0.5"/>
<line x1="181.05" y1="575.89" x2="181.05" y2="595.55" stroke="#000" stroke-width="1.2"/>
<line x1="177.53" y1="575.89" x2="184.57" y2="575.89" stroke="#000" stroke-width="1.3"/>
<rect x="194.20" y="564.83" width="15.50" height="126.07" fill="#3cb44b" stroke="#2aa743" stroke-width="0.5"/>
<line x1="201.95" y1="547.52" x2="201.95" y2="564.58" stroke="#000" stroke-width="1.2"/>
<line x1="198.43" y1="547.52" x2="205.47" y2="547.52" stroke="#000" stroke-width="1.3"/>
<line x1="53.05" y1="509.2" x2="53.05" y2="691.6" stroke="#000" stroke-width="1.6"/>
<line x1="52.3" y1="690.9" x2="220.5" y2="690.9" stroke="#000" stroke-width="1.4"/>
<line x1="69.2" y1="528.4" x2="90.9" y2="528.4" stroke="#000" stroke-width="1.25"/>
<polygon points="78.70,520.70 79.26,522.13 80.79,522.22 79.60,523.19 79.99,524.68 78.70,523.85 77.41,524.68 77.80,523.19 76.61,522.22 78.14,522.13" fill="#000"/>
<polygon points="83.20,520.70 83.76,522.13 85.29,522.22 84.10,523.19 84.49,524.68 83.20,523.85 81.91,524.68 82.30,523.19 81.11,522.22 82.64,522.13" fill="#000"/>
<line x1="126.8" y1="528.4" x2="147.7" y2="528.4" stroke="#000" stroke-width="1.25"/>
<polygon points="134.35,520.70 134.91,522.13 136.44,522.22 135.25,523.19 135.64,524.68 134.35,523.85 133.06,524.68 133.45,523.19 132.26,522.22 133.79,522.13" fill="#000"/>
<polygon points="138.85,520.70 139.41,522.13 140.94,522.22 139.75,523.19 140.14,524.68 138.85,523.85 137.56,524.68 137.95,523.19 136.76,522.22 138.29,522.13" fill="#000"/>
<line x1="182.1" y1="528.4" x2="203.0" y2="528.4" stroke="#000" stroke-width="1.25"/>
<polygon points="192.15,520.70 192.71,522.13 194.24,522.22 193.05,523.19 193.44,524.68 192.15,523.85 190.86,524.68 191.25,523.19 190.06,522.22 191.59,522.13" fill="#000"/>
<polygon points="196.65,520.70 197.21,522.13 198.74,522.22 197.55,523.19 197.94,524.68 196.65,523.85 195.36,524.68 195.75,523.19 194.56,522.22 196.09,522.13" fill="#000"/>
<text transform="translate(136.5,724.9) scale(0.70,1)" font-size="12.8" text-anchor="middle" fill="#000" style="stroke-width:0.3px">E:T ratio</text>
<text x="362.7" y="500.6" font-size="13.2" text-anchor="middle" fill="#000" textLength="28.3" lengthAdjust="spacingAndGlyphs">JJN3</text>
<line x1="274.75" y1="690.90" x2="279.35" y2="690.90" stroke="#000" stroke-width="1.3"/>
<text x="271.1" y="694.65" font-size="11.3" text-anchor="end" fill="#000">0</text>
<line x1="276.35" y1="687.42" x2="279.35" y2="687.42" stroke="#000" stroke-width="1.3"/>
<line x1="276.35" y1="683.94" x2="279.35" y2="683.94" stroke="#000" stroke-width="1.3"/>
<line x1="276.35" y1="680.46" x2="279.35" y2="680.46" stroke="#000" stroke-width="1.3"/>
<line x1="276.35" y1="676.98" x2="279.35" y2="676.98" stroke="#000" stroke-width="1.3"/>
<line x1="274.75" y1="673.50" x2="279.35" y2="673.50" stroke="#000" stroke-width="1.3"/>
<text x="271.1" y="677.25" font-size="11.3" text-anchor="end" fill="#000">10</text>
<line x1="276.35" y1="670.02" x2="279.35" y2="670.02" stroke="#000" stroke-width="1.3"/>
<line x1="276.35" y1="666.54" x2="279.35" y2="666.54" stroke="#000" stroke-width="1.3"/>
<line x1="276.35" y1="663.06" x2="279.35" y2="663.06" stroke="#000" stroke-width="1.3"/>
<line x1="276.35" y1="659.58" x2="279.35" y2="659.58" stroke="#000" stroke-width="1.3"/>
<line x1="274.75" y1="656.10" x2="279.35" y2="656.10" stroke="#000" stroke-width="1.3"/>
<text x="271.1" y="659.85" font-size="11.3" text-anchor="end" fill="#000">20</text>
<line x1="276.35" y1="652.62" x2="279.35" y2="652.62" stroke="#000" stroke-width="1.3"/>
<line x1="276.35" y1="649.14" x2="279.35" y2="649.14" stroke="#000" stroke-width="1.3"/>
<line x1="276.35" y1="645.66" x2="279.35" y2="645.66" stroke="#000" stroke-width="1.3"/>
<line x1="276.35" y1="642.18" x2="279.35" y2="642.18" stroke="#000" stroke-width="1.3"/>
<line x1="274.75" y1="638.70" x2="279.35" y2="638.70" stroke="#000" stroke-width="1.3"/>
<text x="271.1" y="642.45" font-size="11.3" text-anchor="end" fill="#000">30</text>
<line x1="276.35" y1="635.22" x2="279.35" y2="635.22" stroke="#000" stroke-width="1.3"/>
<line x1="276.35" y1="631.74" x2="279.35" y2="631.74" stroke="#000" stroke-width="1.3"/>
<line x1="276.35" y1="628.26" x2="279.35" y2="628.26" stroke="#000" stroke-width="1.3"/>
<line x1="276.35" y1="624.78" x2="279.35" y2="624.78" stroke="#000" stroke-width="1.3"/>
<line x1="274.75" y1="621.30" x2="279.35" y2="621.30" stroke="#000" stroke-width="1.3"/>
<text x="271.1" y="625.05" font-size="11.3" text-anchor="end" fill="#000">40</text>
<line x1="276.35" y1="617.82" x2="279.35" y2="617.82" stroke="#000" stroke-width="1.3"/>
<line x1="276.35" y1="614.34" x2="279.35" y2="614.34" stroke="#000" stroke-width="1.3"/>
<line x1="276.35" y1="610.86" x2="279.35" y2="610.86" stroke="#000" stroke-width="1.3"/>
<line x1="276.35" y1="607.38" x2="279.35" y2="607.38" stroke="#000" stroke-width="1.3"/>
<line x1="274.75" y1="603.90" x2="279.35" y2="603.90" stroke="#000" stroke-width="1.3"/>
<text x="271.1" y="607.65" font-size="11.3" text-anchor="end" fill="#000">50</text>
<line x1="276.35" y1="600.42" x2="279.35" y2="600.42" stroke="#000" stroke-width="1.3"/>
<line x1="276.35" y1="596.94" x2="279.35" y2="596.94" stroke="#000" stroke-width="1.3"/>
<line x1="276.35" y1="593.46" x2="279.35" y2="593.46" stroke="#000" stroke-width="1.3"/>
<line x1="276.35" y1="589.98" x2="279.35" y2="589.98" stroke="#000" stroke-width="1.3"/>
<line x1="274.75" y1="586.50" x2="279.35" y2="586.50" stroke="#000" stroke-width="1.3"/>
<text x="271.1" y="590.25" font-size="11.3" text-anchor="end" fill="#000">60</text>
<line x1="276.35" y1="583.02" x2="279.35" y2="583.02" stroke="#000" stroke-width="1.3"/>
<line x1="276.35" y1="579.54" x2="279.35" y2="579.54" stroke="#000" stroke-width="1.3"/>
<line x1="276.35" y1="576.06" x2="279.35" y2="576.06" stroke="#000" stroke-width="1.3"/>
<line x1="276.35" y1="572.58" x2="279.35" y2="572.58" stroke="#000" stroke-width="1.3"/>
<line x1="274.75" y1="569.10" x2="279.35" y2="569.10" stroke="#000" stroke-width="1.3"/>
<text x="271.1" y="572.85" font-size="11.3" text-anchor="end" fill="#000">70</text>
<line x1="276.35" y1="565.62" x2="279.35" y2="565.62" stroke="#000" stroke-width="1.3"/>
<line x1="276.35" y1="562.14" x2="279.35" y2="562.14" stroke="#000" stroke-width="1.3"/>
<line x1="276.35" y1="558.66" x2="279.35" y2="558.66" stroke="#000" stroke-width="1.3"/>
<line x1="276.35" y1="555.18" x2="279.35" y2="555.18" stroke="#000" stroke-width="1.3"/>
<line x1="274.75" y1="551.70" x2="279.35" y2="551.70" stroke="#000" stroke-width="1.3"/>
<text x="271.1" y="555.45" font-size="11.3" text-anchor="end" fill="#000">80</text>
<line x1="276.35" y1="548.22" x2="279.35" y2="548.22" stroke="#000" stroke-width="1.3"/>
<line x1="276.35" y1="544.74" x2="279.35" y2="544.74" stroke="#000" stroke-width="1.3"/>
<line x1="276.35" y1="541.26" x2="279.35" y2="541.26" stroke="#000" stroke-width="1.3"/>
<line x1="276.35" y1="537.78" x2="279.35" y2="537.78" stroke="#000" stroke-width="1.3"/>
<line x1="274.75" y1="534.30" x2="279.35" y2="534.30" stroke="#000" stroke-width="1.3"/>
<text x="271.1" y="538.05" font-size="11.3" text-anchor="end" fill="#000">90</text>
<line x1="276.35" y1="530.82" x2="279.35" y2="530.82" stroke="#000" stroke-width="1.3"/>
<line x1="276.35" y1="527.34" x2="279.35" y2="527.34" stroke="#000" stroke-width="1.3"/>
<line x1="276.35" y1="523.86" x2="279.35" y2="523.86" stroke="#000" stroke-width="1.3"/>
<line x1="276.35" y1="520.38" x2="279.35" y2="520.38" stroke="#000" stroke-width="1.3"/>
<line x1="274.75" y1="516.90" x2="279.35" y2="516.90" stroke="#000" stroke-width="1.3"/>
<text x="271.1" y="520.65" font-size="11.3" text-anchor="end" fill="#000">100</text>
<text transform="translate(244.4,602.6) rotate(-90) scale(0.70,1)" font-size="12.8" text-anchor="middle" fill="#000" style="stroke-width:0.28px">% Specific lysis</text>
<line x1="300.6" y1="690.9" x2="300.6" y2="695.1999999999999" stroke="#000" stroke-width="1.2"/>
<text x="300.6" y="707.20" font-size="10.5" text-anchor="middle" fill="#000">1:1</text>
<rect x="287.15" y="673.23" width="11.30" height="17.67" fill="#c8102e" stroke="#b00c28" stroke-width="0.5"/>
<line x1="292.80" y1="668.80" x2="292.80" y2="672.98" stroke="#000" stroke-width="1.2"/>
<line x1="290.20" y1="668.80" x2="295.40" y2="668.80" stroke="#000" stroke-width="1.3"/>
<rect x="302.75" y="658.96" width="11.30" height="31.94" fill="#3cb44b" stroke="#2aa743" stroke-width="0.5"/>
<line x1="308.40" y1="652.27" x2="308.40" y2="658.71" stroke="#000" stroke-width="1.2"/>
<line x1="305.80" y1="652.27" x2="311.00" y2="652.27" stroke="#000" stroke-width="1.3"/>
<line x1="342.6" y1="690.9" x2="342.6" y2="695.1999999999999" stroke="#000" stroke-width="1.2"/>
<text x="342.6" y="707.20" font-size="10.5" text-anchor="middle" fill="#000">2.5:1</text>
<rect x="329.15" y="660.00" width="11.30" height="30.90" fill="#c8102e" stroke="#b00c28" stroke-width="0.5"/>
<line x1="334.80" y1="652.62" x2="334.80" y2="659.75" stroke="#000" stroke-width="1.2"/>
<line x1="332.20" y1="652.62" x2="337.40" y2="652.62" stroke="#000" stroke-width="1.3"/>
<rect x="344.75" y="640.34" width="11.30" height="50.56" fill="#3cb44b" stroke="#2aa743" stroke-width="0.5"/>
<line x1="350.40" y1="630.00" x2="350.40" y2="640.09" stroke="#000" stroke-width="1.2"/>
<line x1="347.80" y1="630.00" x2="353.00" y2="630.00" stroke="#000" stroke-width="1.3"/>
<line x1="384.6" y1="690.9" x2="384.6" y2="695.1999999999999" stroke="#000" stroke-width="1.2"/>
<text x="384.6" y="707.20" font-size="10.5" text-anchor="middle" fill="#000">5:1</text>
<rect x="371.15" y="644.17" width="11.30" height="46.73" fill="#c8102e" stroke="#b00c28" stroke-width="0.5"/>
<line x1="376.80" y1="633.48" x2="376.80" y2="643.92" stroke="#000" stroke-width="1.2"/>
<line x1="374.20" y1="633.48" x2="379.40" y2="633.48" stroke="#000" stroke-width="1.3"/>
<rect x="386.75" y="622.59" width="11.30" height="68.31" fill="#3cb44b" stroke="#2aa743" stroke-width="0.5"/>
<line x1="392.40" y1="610.34" x2="392.40" y2="622.34" stroke="#000" stroke-width="1.2"/>
<line x1="389.80" y1="610.34" x2="395.00" y2="610.34" stroke="#000" stroke-width="1.3"/>
<line x1="426.6" y1="690.9" x2="426.6" y2="695.1999999999999" stroke="#000" stroke-width="1.2"/>
<text x="426.6" y="707.20" font-size="10.5" text-anchor="middle" fill="#000">10:1</text>
<rect x="413.15" y="625.03" width="11.30" height="65.87" fill="#c8102e" stroke="#b00c28" stroke-width="0.5"/>
<line x1="418.80" y1="613.82" x2="418.80" y2="624.78" stroke="#000" stroke-width="1.2"/>
<line x1="416.20" y1="613.82" x2="421.40" y2="613.82" stroke="#000" stroke-width="1.3"/>
<rect x="428.75" y="603.63" width="11.30" height="87.27" fill="#3cb44b" stroke="#2aa743" stroke-width="0.5"/>
<line x1="434.40" y1="591.72" x2="434.40" y2="603.38" stroke="#000" stroke-width="1.2"/>
<line x1="431.80" y1="591.72" x2="437.00" y2="591.72" stroke="#000" stroke-width="1.3"/>
<line x1="279.35" y1="509.2" x2="279.35" y2="691.6" stroke="#000" stroke-width="1.6"/>
<line x1="278.6" y1="690.9" x2="446.9" y2="690.9" stroke="#000" stroke-width="1.4"/>
<line x1="292.2" y1="527.3" x2="308.5" y2="527.3" stroke="#000" stroke-width="1.25"/>
<polygon points="298.25,519.10 298.81,520.53 300.34,520.62 299.15,521.59 299.54,523.08 298.25,522.25 296.96,523.08 297.35,521.59 296.16,520.62 297.69,520.53" fill="#000"/>
<polygon points="302.75,519.10 303.31,520.53 304.84,520.62 303.65,521.59 304.04,523.08 302.75,522.25 301.46,523.08 301.85,521.59 300.66,520.62 302.19,520.53" fill="#000"/>
<line x1="336.0" y1="527.3" x2="351.7" y2="527.3" stroke="#000" stroke-width="1.25"/>
<polygon points="341.15,519.10 341.71,520.53 343.24,520.62 342.05,521.59 342.44,523.08 341.15,522.25 339.86,523.08 340.25,521.59 339.06,520.62 340.59,520.53" fill="#000"/>
<polygon points="345.65,519.10 346.21,520.53 347.74,520.62 346.55,521.59 346.94,523.08 345.65,522.25 344.36,523.08 344.75,521.59 343.56,520.62 345.09,520.53" fill="#000"/>
<line x1="377.9" y1="527.2" x2="394.2" y2="527.2" stroke="#000" stroke-width="1.25"/>
<polygon points="384.15,519.10 384.71,520.53 386.24,520.62 385.05,521.59 385.44,523.08 384.15,522.25 382.86,523.08 383.25,521.59 382.06,520.62 383.59,520.53" fill="#000"/>
<polygon points="388.65,519.10 389.21,520.53 390.74,520.62 389.55,521.59 389.94,523.08 388.65,522.25 387.36,523.08 387.75,521.59 386.56,520.62 388.09,520.53" fill="#000"/>
<line x1="418.8" y1="527.2" x2="435.1" y2="527.2" stroke="#000" stroke-width="1.25"/>
<polygon points="420.40,519.10 420.96,520.53 422.49,520.62 421.30,521.59 421.69,523.08 420.40,522.25 419.11,523.08 419.50,521.59 418.31,520.62 419.84,520.53" fill="#000"/>
<polygon points="424.90,519.10 425.46,520.53 426.99,520.62 425.80,521.59 426.19,523.08 424.90,522.25 423.61,523.08 424.00,521.59 422.81,520.62 424.34,520.53" fill="#000"/>
<polygon points="429.40,519.10 429.96,520.53 431.49,520.62 430.30,521.59 430.69,523.08 429.40,522.25 428.11,523.08 428.50,521.59 427.31,520.62 428.84,520.53" fill="#000"/>
<polygon points="433.90,519.10 434.46,520.53 435.99,520.62 434.80,521.59 435.19,523.08 433.90,522.25 432.61,523.08 433.00,521.59 431.81,520.62 433.34,520.53" fill="#000"/>
<rect x="464.2" y="516.2" width="8.2" height="8" fill="#c8102e"/>
<rect x="464.2" y="533.2" width="8.2" height="8" fill="#3cb44b"/>
<text x="476.5" y="523.5" font-size="10.1" fill="#000">GLYCO</text>
<text x="476.5" y="540.5" font-size="10.1" fill="#000">NEU</text>
<text transform="translate(361.4,724.9) scale(0.70,1)" font-size="12.8" text-anchor="middle" fill="#000" style="stroke-width:0.3px">E:T ratio</text>
<text x="9.6" y="20.9" font-size="15.8" font-weight="bold" fill="#000" style="stroke-width:0.55px">A</text>
<text x="10.4" y="260.6" font-size="15.8" font-weight="bold" fill="#000" style="stroke-width:0.55px">B</text>
<text x="10.0" y="500.8" font-size="15.8" font-weight="bold" fill="#000" style="stroke-width:0.55px">C</text>
<rect x="0.75" y="0.75" width="518.55" height="733.5" fill="none" stroke="#000" stroke-width="1.5"/>
</svg>
</body></html>
